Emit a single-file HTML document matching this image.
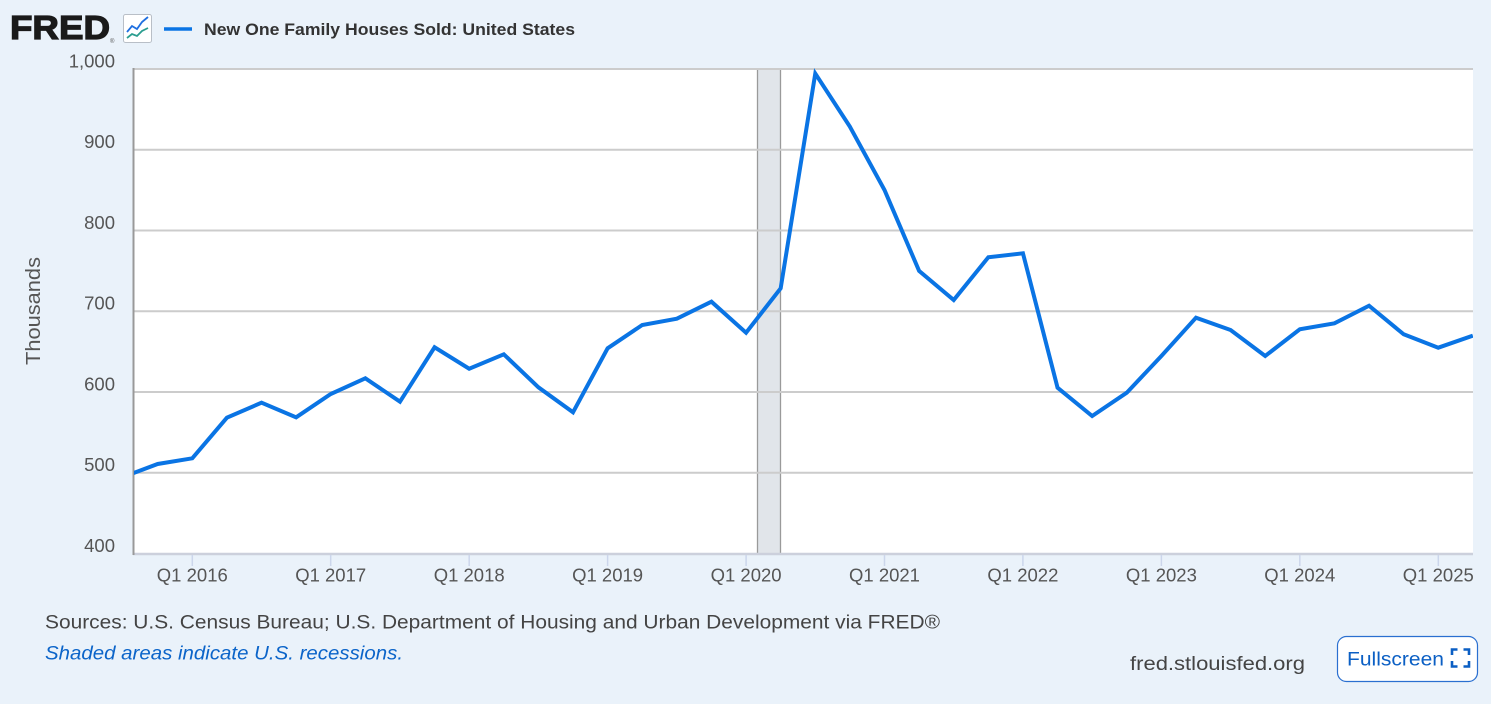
<!DOCTYPE html>
<html>
<head>
<meta charset="utf-8">
<style>
html,body{margin:0;padding:0;background:#eaf2fa;}
body{width:1491px;height:704px;overflow:hidden;}
svg{display:block;}
text{font-family:"Liberation Sans",Arial,sans-serif;}
</style>
</head>
<body>
<svg width="1491" height="704" viewBox="0 0 1491 704" xmlns="http://www.w3.org/2000/svg">
  <rect x="0" y="0" width="1491" height="704" fill="#eaf2fa"/>
  <defs>
    <clipPath id="plot"><rect x="134" y="60" width="1339" height="494"/></clipPath>
  </defs>

  <!-- Header -->
  <text x="10" y="39" font-size="33" font-weight="bold" fill="#1a1a1a" textLength="100" lengthAdjust="spacingAndGlyphs" stroke="#1a1a1a" stroke-width="1.2">FRED</text>
  <text x="110" y="43" font-size="6" fill="#555">®</text>
  <rect x="123.5" y="14.5" width="28" height="28" rx="2" fill="#ffffff" stroke="#b9bfc7" stroke-width="1"/>
  <polyline points="127,32 132,26 137,29 142,22 148,17" fill="none" stroke="#1f6fe0" stroke-width="1.8"/>
  <polyline points="127,38 132,34 137,36 142,31 148,28" fill="none" stroke="#2a9d8f" stroke-width="1.8"/>
  <line x1="164" y1="29" x2="192" y2="29" stroke="#0a74e4" stroke-width="3.5"/>
  <text x="204" y="35" font-size="17" font-weight="bold" fill="#333333" textLength="371" lengthAdjust="spacingAndGlyphs">New One Family Houses Sold: United States</text>

  <!-- Plot background -->
  <rect x="134" y="69" width="1339" height="484.5" fill="#ffffff"/>

  <!-- Recession shading -->
  <rect x="757.5" y="69" width="23" height="484.5" fill="#e1e5ea"/>
  <line x1="757.5" y1="69" x2="757.5" y2="553.5" stroke="#9a9a9a" stroke-width="1.3"/>
  <line x1="780.5" y1="69" x2="780.5" y2="553.5" stroke="#9a9a9a" stroke-width="1.3"/>

  <!-- Gridlines -->
  <g stroke="#cccccc" stroke-width="2">
    <line x1="134" y1="69" x2="1473" y2="69"/>
    <line x1="134" y1="149.75" x2="1473" y2="149.75"/>
    <line x1="134" y1="230.5" x2="1473" y2="230.5"/>
    <line x1="134" y1="311.25" x2="1473" y2="311.25"/>
    <line x1="134" y1="392" x2="1473" y2="392"/>
    <line x1="134" y1="472.75" x2="1473" y2="472.75"/>
  </g>
  <!-- x axis line -->
  <line x1="133" y1="554" x2="1473" y2="554" stroke="#ccd0dc" stroke-width="2.5"/>
  <!-- y axis line -->
  <line x1="133.5" y1="68" x2="133.5" y2="555" stroke="#999999" stroke-width="2"/>

  <!-- x ticks -->
  <g stroke="#ccd6eb" stroke-width="1.5">
    <line x1="192.3" y1="555" x2="192.3" y2="566"/>
    <line x1="330.7" y1="555" x2="330.7" y2="566"/>
    <line x1="469.2" y1="555" x2="469.2" y2="566"/>
    <line x1="607.6" y1="555" x2="607.6" y2="566"/>
    <line x1="746.1" y1="555" x2="746.1" y2="566"/>
    <line x1="884.5" y1="555" x2="884.5" y2="566"/>
    <line x1="1022.9" y1="555" x2="1022.9" y2="566"/>
    <line x1="1161.4" y1="555" x2="1161.4" y2="566"/>
    <line x1="1299.8" y1="555" x2="1299.8" y2="566"/>
    <line x1="1438.3" y1="555" x2="1438.3" y2="566"/>
  </g>

  <!-- Series -->
  <g clip-path="url(#plot)">
    <polyline fill="none" stroke="#0a74e4" stroke-width="4" stroke-linejoin="miter" stroke-linecap="butt"
      points="123.08,477 157.69,464 192.3,458.3 226.91,417.7 261.52,402.7 296.13,417.3 330.74,394 365.35,378.3 399.96,401.7 434.57,347.3 469.18,368.7 503.79,354.3 538.4,387.3 573.01,412.3 607.62,348.3 642.23,325 676.84,318.7 711.45,301.7 746.06,332.7 780.67,288.3 815.28,73.5 849.89,126.7 884.5,190 919.11,270.9 953.72,300 988.33,257.3 1022.94,253.3 1057.55,387.7 1092.16,416 1126.77,392.7 1161.38,356 1195.99,317.7 1230.6,330 1265.21,356 1299.82,329.3 1334.43,323.3 1369.04,305.7 1403.65,334.3 1438.26,347.7 1472.87,335.7"/>
  </g>

  <!-- Y labels -->
  <g font-size="18.5" fill="#555555" text-anchor="end">
    <text x="115" y="67.5">1,000</text>
    <text x="115" y="148.2">900</text>
    <text x="115" y="229">800</text>
    <text x="115" y="309.7">700</text>
    <text x="115" y="390.5">600</text>
    <text x="115" y="471.2">500</text>
    <text x="115" y="552">400</text>
  </g>
  <text transform="translate(40,311) rotate(-90)" font-size="20" fill="#555555" text-anchor="middle" textLength="108" lengthAdjust="spacingAndGlyphs">Thousands</text>

  <!-- X labels -->
  <g font-size="18.5" fill="#555555" text-anchor="middle">
    <text x="192.3" y="581.5">Q1 2016</text>
    <text x="330.7" y="581.5">Q1 2017</text>
    <text x="469.2" y="581.5">Q1 2018</text>
    <text x="607.6" y="581.5">Q1 2019</text>
    <text x="746.1" y="581.5">Q1 2020</text>
    <text x="884.5" y="581.5">Q1 2021</text>
    <text x="1022.9" y="581.5">Q1 2022</text>
    <text x="1161.4" y="581.5">Q1 2023</text>
    <text x="1299.8" y="581.5">Q1 2024</text>
    <text x="1438.3" y="581.5">Q1 2025</text>
  </g>

  <!-- Footer -->
  <text x="45" y="628.5" font-size="19" fill="#444444" textLength="895" lengthAdjust="spacingAndGlyphs">Sources: U.S. Census Bureau; U.S. Department of Housing and Urban Development via FRED®</text>
  <text x="45" y="659.5" font-size="19" font-style="italic" fill="#0b64c9" textLength="358" lengthAdjust="spacingAndGlyphs">Shaded areas indicate U.S. recessions.</text>
  <text x="1130" y="670" font-size="19" fill="#444444" textLength="175" lengthAdjust="spacingAndGlyphs">fred.stlouisfed.org</text>

  <!-- Fullscreen button -->
  <rect x="1337.5" y="636.5" width="140" height="45" rx="9" fill="#ffffff" stroke="#2a6fd0" stroke-width="1.2"/>
  <text x="1347" y="665.5" font-size="19.5" fill="#0b5fc4" textLength="97" lengthAdjust="spacingAndGlyphs">Fullscreen</text>
  <g fill="none" stroke="#0b5fc4" stroke-width="2.6">
    <polyline points="1452,655 1452,649.5 1457.5,649.5"/>
    <polyline points="1463.5,649.5 1469,649.5 1469,655"/>
    <polyline points="1452,661 1452,666.5 1457.5,666.5"/>
    <polyline points="1463.5,666.5 1469,666.5 1469,661"/>
  </g>
</svg>
</body>
</html>
